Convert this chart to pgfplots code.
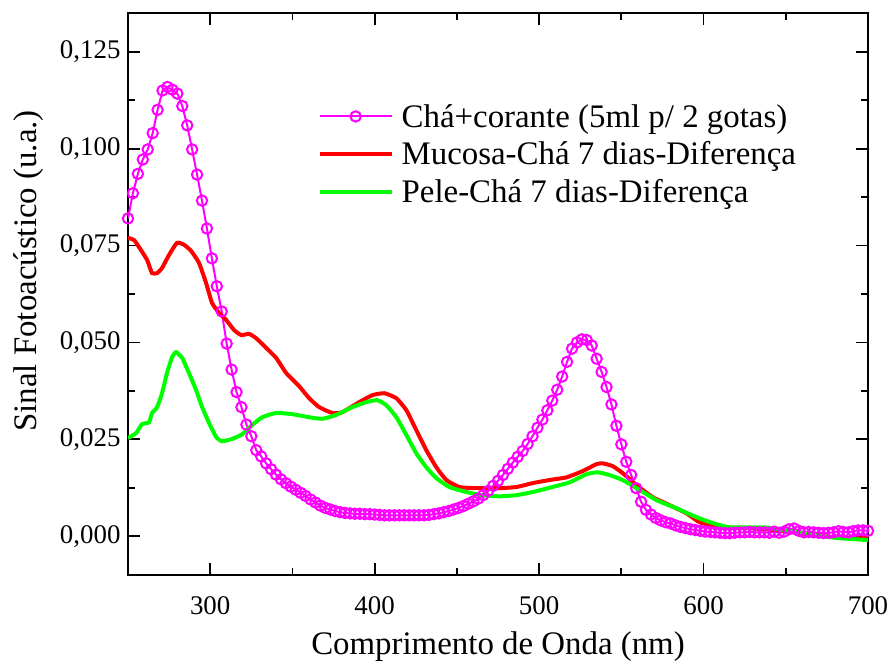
\documentclass[border=0pt]{standalone}
\usepackage{fontspec}
\setmainfont{Liberation Serif}
\usepackage{pgfplots}
\pgfplotsset{compat=1.18}
\definecolor{mag}{RGB}{255,0,255}
\definecolor{myred}{RGB}{255,0,0}
\definecolor{mygreen}{RGB}{0,255,0}
\begin{document}
\begin{tikzpicture}
\path[use as bounding box] (-128bp,-88bp) rectangle (762bp,575bp);
\begin{axis}[
  scale only axis, width=740bp, height=562bp,
  xmin=250, xmax=700, ymin=-0.010, ymax=0.135,
  xtick={300,400,500,600,700}, ytick={0,0.025,0.05,0.075,0.1,0.125},
  minor x tick num=1, minor y tick num=1,
  major tick length=12bp, minor tick length=7bp,
  tick align=inside, tick style={line width=1.8bp, black},
  axis line style={line width=2bp},
  scaled y ticks=false,
  yticklabel style={/pgf/number format/.cd, fixed, fixed zerofill, precision=3, use comma, assume math mode=true, /tikz/.cd, xshift=-4bp},
  xticklabel style={/pgf/number format/assume math mode=true, yshift=-18bp},
  ticklabel style={font=\fontsize{27}{32}\selectfont},
  xlabel={Comprimento de Onda (nm)}, ylabel={Sinal Fotoacústico (u.a.)},
  label style={font=\fontsize{33}{38}\selectfont},
  xlabel style={at={(axis description cs:0.5,-0.128)}, anchor=center},
  ylabel style={at={(axis description cs:-0.135,0.541)}, anchor=center},
  legend style={draw=none, fill=none, at={(0.252,0.845)}, anchor=north west,
    font=\fontsize{33}{38}\selectfont, row sep=9bp,
    /tikz/every odd column/.append style={column sep=6bp}},
  legend cell align=left,
  legend image code/.code={\draw[mark repeat=2,mark phase=2,#1] plot coordinates {(0bp,0bp) (36bp,0bp) (72bp,0bp)};},
]
\addplot[mag, line width=2bp, mark=o, mark size=5.2bp, mark options={fill=white, line width=2bp}] coordinates {
(250,0.0820)(253,0.0885)(256,0.0935)(259,0.0972)(262,0.0998)(265,0.1040)(268,0.1100)(271,0.1150)(274,0.1159)(277,0.1152)
(280,0.1142)(283,0.1110)(286,0.1060)(289,0.0998)(292,0.0933)(295,0.0866)(298,0.0794)(301,0.0717)(304,0.0645)(307,0.0580)
(310,0.0497)(313,0.0430)(316,0.0372)(319,0.0333)(322,0.0288)(325,0.0258)(328,0.0222)(331,0.0206)(334,0.0188)(337,0.0173)
(340,0.0159)(343,0.0147)(346,0.0137)(349,0.0128)(352,0.0120)(355,0.0112)(358,0.0104)(361,0.0095)(364,0.0087)(367,0.0079)
(370,0.0073)(373,0.0069)(376,0.0065)(379,0.0062)(382,0.0060)(385,0.0059)(388,0.0058)(391,0.0058)(394,0.0057)(397,0.0057)
(400,0.0056)(403,0.0055)(406,0.0054)(409,0.0054)(412,0.0054)(415,0.0054)(418,0.0054)(421,0.0054)(424,0.0054)(427,0.0054)
(430,0.0054)(433,0.0055)(436,0.0057)(439,0.0059)(442,0.0062)(445,0.0065)(448,0.0069)(451,0.0073)(454,0.0078)(457,0.0084)
(460,0.0090)(463,0.0097)(466,0.0106)(469,0.0117)(472,0.0130)(475,0.0143)(478,0.0158)(481,0.0174)(484,0.0190)(487,0.0205)
(490,0.0220)(493,0.0238)(496,0.0258)(499,0.0280)(502,0.0301)(505,0.0325)(508,0.0350)(511,0.0378)(514,0.0412)(517,0.0450)
(520,0.0484)(523,0.0500)(526,0.0508)(529,0.0506)(532,0.0492)(535,0.0458)(538,0.0424)(541,0.0385)(544,0.0340)(547,0.0285)
(550,0.0237)(553,0.0192)(556,0.0158)(559,0.0124)(562,0.0089)(565,0.0068)(568,0.0056)(571,0.0047)(574,0.0041)(577,0.0036)
(580,0.0033)(583,0.0028)(586,0.0024)(589,0.0021)(592,0.0018)(595,0.0016)(598,0.0014)(601,0.0012)(604,0.0011)(607,0.0010)
(610,0.0009)(613,0.0008)(616,0.0008)(619,0.0009)(622,0.0010)(625,0.0010)(628,0.0011)(631,0.0010)(634,0.0010)(637,0.0010)
(640,0.0009)(643,0.0012)(646,0.0009)(649,0.0012)(652,0.0018)(655,0.0020)(658,0.0014)(661,0.0010)(664,0.0011)(667,0.0010)
(670,0.0009)(673,0.0008)(676,0.0009)(679,0.0010)(682,0.0013)(685,0.0011)(688,0.0010)(691,0.0013)(694,0.0015)(697,0.0015)
(700,0.0014)};
\addlegendentry{Chá+corante (5ml p/ 2 gotas)}
\addplot[myred, line width=4bp, smooth, tension=0.3] coordinates {
(250,0.0770)(253.7,0.0764)(256.7,0.0746)(261.6,0.0713)(264.6,0.0679)(267.7,0.0679)(270.7,0.0692)(275.0,0.0726)(279.8,0.0757)
(284.1,0.0752)(288.4,0.0736)(293.2,0.0705)(297.5,0.0653)(301.1,0.0602)(305.4,0.0576)(309.7,0.0558)(314.5,0.0532)(318.8,0.0519)
(323.7,0.0522)(327.9,0.0511)(334.0,0.0486)(340.1,0.0460)(346.2,0.0421)(354.1,0.0387)(360.2,0.0356)(366.3,0.0333)(374.2,0.0318)
(380.3,0.0320)(390.6,0.0346)(398.6,0.0364)(405.9,0.0369)(413.2,0.0356)(419.3,0.0325)(425.3,0.0274)(431.4,0.0222)(437.5,0.0178)
(443.6,0.0145)(451.5,0.0127)(461.9,0.0124)(475.9,0.0124)(486.2,0.0127)(496.0,0.0137)(506.3,0.0145)(516.7,0.0152)(526.4,0.0168)
(534.9,0.0186)(538.6,0.0188)(544.7,0.0181)(550.8,0.0163)(559.3,0.0132)(569.0,0.0101)(579.4,0.0080)(589.7,0.0059)(597.6,0.0036)
(609.8,0.0023)(626.3,0.0021)(646.3,0.0015)(666.4,0.0003)(687.1,-0.0005)(700,-0.0005)};
\addlegendentry{Mucosa-Chá 7 dias-Diferença}
\addplot[mygreen, line width=4bp, smooth, tension=0.3] coordinates {
(250,0.0253)(254.9,0.0266)(258.5,0.0289)(262.8,0.0294)(264.6,0.0318)(267.7,0.0333)(270.7,0.0369)(273.7,0.0421)(276.8,0.0462)
(279.2,0.0475)(282.9,0.0460)(287.1,0.0421)(291.4,0.0377)(295.1,0.0333)(299.3,0.0292)(303.6,0.0256)(307.2,0.0245)(313.3,0.0251)
(319.4,0.0263)(325.5,0.0287)(331.6,0.0307)(340.1,0.0318)(349.8,0.0315)(360.2,0.0307)(368.1,0.0303)(376.6,0.0313)(386.4,0.0333)
(394.9,0.0346)(401.6,0.0351)(407.1,0.0338)(413.2,0.0307)(419.3,0.0261)(425.3,0.0214)(431.4,0.0178)(437.5,0.0150)(445.4,0.0127)
(455.8,0.0114)(465.5,0.0106)(475.9,0.0103)(486.2,0.0106)(496.0,0.0114)(508.1,0.0127)(518.5,0.0139)(528.8,0.0160)(535.5,0.0165)
(542.8,0.0158)(550.8,0.0145)(559.3,0.0124)(571.5,0.0093)(583.6,0.0072)(595.8,0.0049)(605.6,0.0034)(615.9,0.0023)(636.0,0.0023)
(650.6,0.0015)(666.4,0.0003)(682.9,-0.0005)(700,-0.0010)};
\addlegendentry{Pele-Chá 7 dias-Diferença}
\end{axis}
\end{tikzpicture}
\end{document}
